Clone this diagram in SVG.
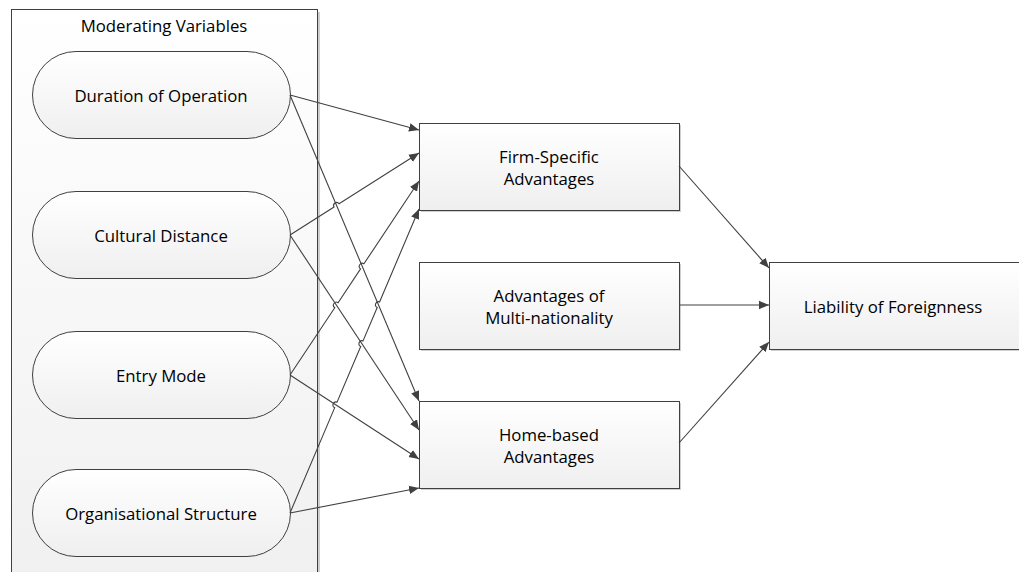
<svg xmlns="http://www.w3.org/2000/svg" width="1019" height="572" viewBox="0 0 1019 572">
<style>
.t{font-family:"Open Sans","Liberation Sans",sans-serif;font-size:16.8px;fill:#000;text-anchor:middle;dominant-baseline:central}
.n{stroke:#404040;stroke-width:1;fill:url(#g)}
.sh{fill:#cfcfcf}
.c{fill:none;stroke:#404040;stroke-width:1.1;marker-end:url(#a)}
</style>
<defs>
<linearGradient id="g" x1="0" y1="0" x2="0" y2="1"><stop offset="0" stop-color="#ffffff"/><stop offset="1" stop-color="#efefef"/></linearGradient>
<linearGradient id="gc" x1="0" y1="0" x2="0" y2="1"><stop offset="0" stop-color="#ffffff"/><stop offset="1" stop-color="#f0f0f0"/></linearGradient>
<marker id="a" viewBox="0 0 10 10" refX="10" refY="5" markerWidth="10" markerHeight="10" markerUnits="userSpaceOnUse" orient="auto"><path d="M0,0.8 L10,5 L0,9.2 z" fill="#404040"/></marker>
</defs>
<g id="container">
<rect x="14" y="12" width="306" height="570" class="sh"/>
<rect x="11.5" y="9.5" width="306" height="570" fill="url(#gc)" stroke="#404040"/>
<text x="164" y="25" class="t">Moderating Variables</text>
</g>
<g id="duration">
<rect x="32.5" y="51.5" width="258" height="87" rx="43.5" class="n"/>
<text x="161" y="95" class="t">Duration of Operation</text>
</g>
<g id="cultural">
<rect x="32.5" y="191.5" width="258" height="87" rx="43.5" class="n"/>
<text x="161" y="235" class="t">Cultural Distance</text>
</g>
<g id="entry">
<rect x="32.5" y="331.5" width="258" height="87" rx="43.5" class="n"/>
<text x="161" y="375" class="t">Entry Mode</text>
</g>
<g id="organisational">
<rect x="32.5" y="469.5" width="258" height="87" rx="43.5" class="n"/>
<text x="161" y="513" class="t">Organisational Structure</text>
</g>
<g id="firm">
<rect x="421" y="125" width="260" height="87" class="sh"/>
<rect x="419.5" y="123.5" width="260" height="87" class="n"/>
<text x="549" y="156" class="t">Firm-Specific</text>
<text x="549" y="178" class="t">Advantages</text>
</g>
<g id="multi">
<rect x="421" y="264" width="260" height="87" class="sh"/>
<rect x="419.5" y="262.5" width="260" height="87" class="n"/>
<text x="549" y="295" class="t">Advantages of</text>
<text x="549" y="317" class="t">Multi-nationality</text>
</g>
<g id="home">
<rect x="421" y="403" width="260" height="87" class="sh"/>
<rect x="419.5" y="401.5" width="260" height="87" class="n"/>
<text x="549" y="434" class="t">Home-based</text>
<text x="549" y="456" class="t">Advantages</text>
</g>
<g id="liability">
<rect x="771" y="264" width="260" height="87" class="sh"/>
<rect x="769.5" y="262.5" width="260" height="87" class="n"/>
<text x="893" y="306" class="t">Liability of Foreignness</text>
</g>
<g id="connectors">
<path class="c" d="M290,95 L419,130"/>
<path class="c" d="M290,95 L419,401"/>
<path class="c" d="M290,235 L334.02,207.02 A3,3 0 0 1 339.08,203.80 L419,153"/>
<path class="c" d="M290,235 L419,430"/>
<path class="c" d="M290,375 L334.77,307.68 A3,3 0 0 1 338.09,302.68 L360.58,268.86 A3,3 0 0 1 363.90,263.86 L419,181"/>
<path class="c" d="M290,375 L419,459"/>
<path class="c" d="M290,513 L334.71,407.64 A3,3 0 0 1 337.05,402.12 L360.70,346.40 A3,3 0 0 1 363.04,340.88 L377.23,307.45 A3,3 0 0 1 379.57,301.93 L419,209"/>
<path class="c" d="M290,513 L419,488"/>
<path class="c" d="M679,166 L769,268"/>
<path class="c" d="M679,305 L769,305"/>
<path class="c" d="M679,443 L769,342"/>
</g>
</svg>
